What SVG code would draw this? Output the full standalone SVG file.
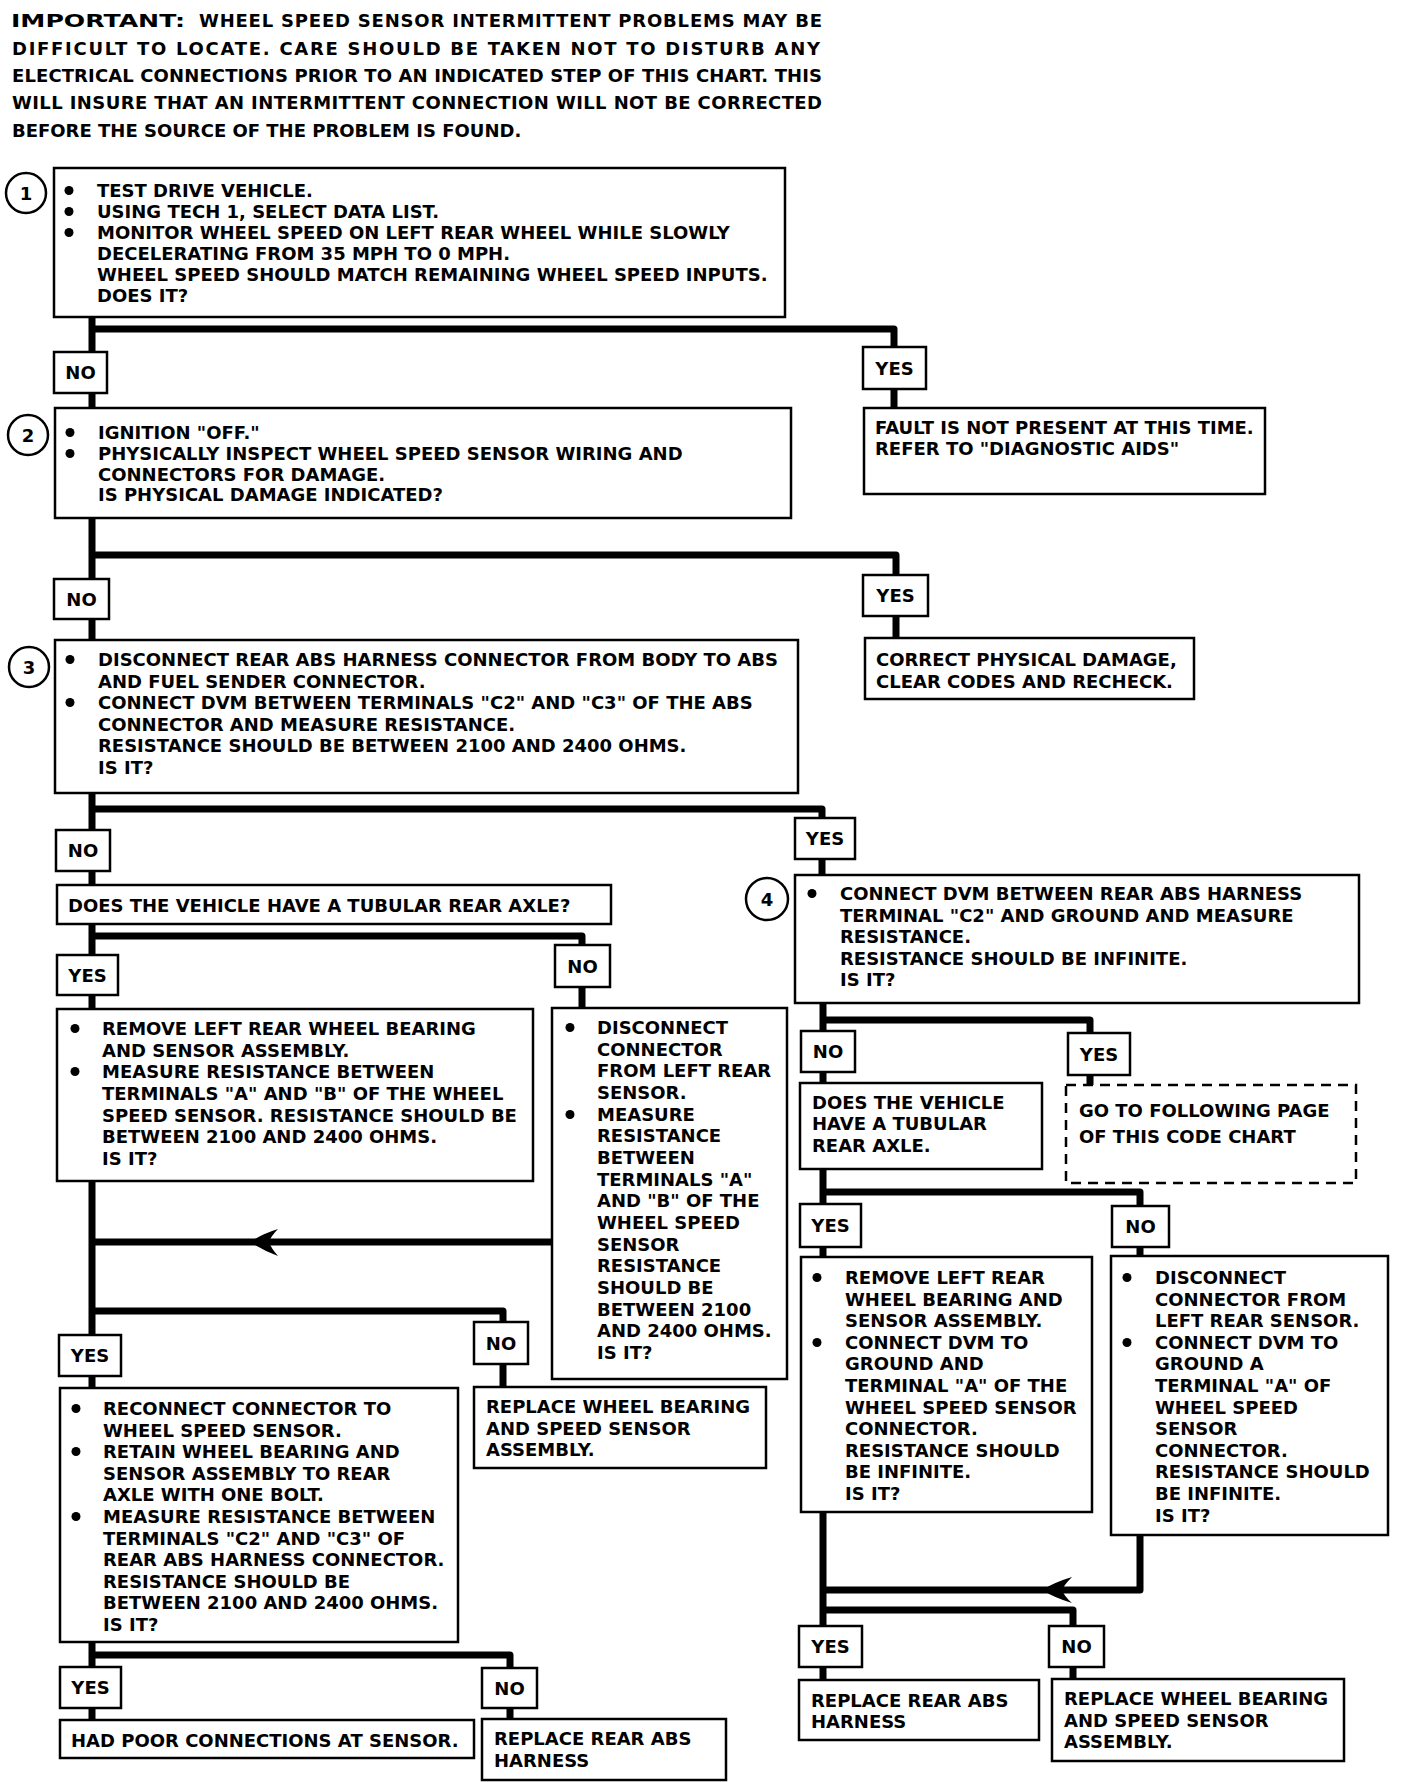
<svg xmlns="http://www.w3.org/2000/svg" width="1408" height="1782" viewBox="0 0 1408 1782">
<style>
.bg{fill:#fff}
.box{fill:#fff;stroke:#000;stroke-width:2.5}
.dash{fill:#fff;stroke:#000;stroke-width:2.5;stroke-dasharray:10 7}
.ln{fill:none;stroke:#000;stroke-width:7;stroke-linejoin:round;stroke-linecap:butt}
.ah{fill:#000;stroke:none}
.t{font-family:"DejaVu Sans","Liberation Sans",sans-serif;font-weight:bold;font-size:18px;fill:#000}
.c{text-anchor:middle}
.num{font-family:"DejaVu Sans","Liberation Sans",sans-serif;font-weight:bold;font-size:18px;fill:#000;text-anchor:middle}
.cir{fill:#fff;stroke:#000;stroke-width:2.5}
.b{fill:#000}
</style>
<rect class="bg" x="0" y="0" width="1408" height="1782"/>

<g id="header">
<text class="t" x="11" y="27" font-size="20" textLength="174" lengthAdjust="spacingAndGlyphs">IMPORTANT:</text>
<text class="t" x="199" y="27" textLength="623" lengthAdjust="spacing">WHEEL SPEED SENSOR INTERMITTENT PROBLEMS MAY BE</text>
<text class="t" x="12" y="55" textLength="808" lengthAdjust="spacing">DIFFICULT TO LOCATE.  CARE SHOULD BE TAKEN NOT TO DISTURB ANY</text>
<text class="t" x="12" y="82" textLength="810" lengthAdjust="spacing">ELECTRICAL CONNECTIONS PRIOR TO AN INDICATED STEP OF THIS CHART.  THIS</text>
<text class="t" x="12" y="109" textLength="810" lengthAdjust="spacing">WILL INSURE THAT AN INTERMITTENT CONNECTION WILL NOT BE CORRECTED</text>
<text class="t" x="12" y="137">BEFORE THE SOURCE OF THE PROBLEM IS FOUND.</text>
</g>

<g id="connectors">
<path class="ln" d="M92,317 V408 M92,329 H894 V408"/>
<path class="ln" d="M92,518 V640 M92,555 H896 V638"/>
<path class="ln" d="M92,793 V885 M92,809 H822 V875"/>
<path class="ln" d="M92,924 V1009 M92,936 H582 V1008"/>
<path class="ln" d="M92,1181 V1388 M92,1311 H503 V1387"/>
<path class="ln" d="M552,1242 H92"/>
<path class="ah" d="M250,1242 Q262,1234 278,1229 Q271,1236 269,1242 Q271,1248 278,1256 Q262,1250 250,1242 Z"/>
<path class="ln" d="M92,1642 V1720 M92,1655 H510 V1719"/>
<path class="ln" d="M823,1003 V1083 M823,1020 H1090 V1085"/>
<path class="ln" d="M823,1169 V1257 M823,1192 H1140 V1256"/>
<path class="ln" d="M823,1512 V1680 M823,1610 H1073 V1679"/>
<path class="ln" d="M1140,1535 V1590 H823"/>
<path class="ah" d="M1042,1590 Q1055,1582 1072,1577 Q1064,1585 1062,1590 Q1064,1596 1072,1603 Q1055,1598 1042,1590 Z"/>
</g>

<g id="step1">
<circle class="cir" cx="26" cy="193" r="20"/><text class="num" x="26" y="199.5">1</text>
<rect class="box" x="54" y="168" width="731" height="149"/>
<circle class="b" cx="69" cy="190.5" r="4.5"/><circle class="b" cx="69" cy="211.5" r="4.5"/><circle class="b" cx="69" cy="232.5" r="4.5"/>
<text class="t" x="97" y="197">TEST DRIVE VEHICLE.</text>
<text class="t" x="97" y="218">USING TECH 1, SELECT DATA LIST.</text>
<text class="t" x="97" y="239">MONITOR WHEEL SPEED ON LEFT REAR WHEEL WHILE SLOWLY</text>
<text class="t" x="97" y="260">DECELERATING FROM 35 MPH TO 0 MPH.</text>
<text class="t" x="97" y="281">WHEEL SPEED SHOULD MATCH REMAINING WHEEL SPEED INPUTS.</text>
<text class="t" x="97" y="302">DOES IT?</text>
</g>

<g id="yes1"><rect class="box" x="863" y="347" width="63" height="42"/><text class="t c" x="894.5" y="374.5">YES</text></g>
<g id="no1"><rect class="box" x="54" y="352" width="53" height="41"/><text class="t c" x="80.5" y="379">NO</text></g>

<g id="fault">
<rect class="box" x="864" y="408" width="401" height="86"/>
<text class="t" x="875" y="434">FAULT IS NOT PRESENT AT THIS TIME.</text>
<text class="t" x="875" y="455">REFER TO "DIAGNOSTIC AIDS"</text>
</g>

<g id="step2">
<circle class="cir" cx="28" cy="435" r="20"/><text class="num" x="28" y="441.5">2</text>
<rect class="box" x="55" y="408" width="736" height="110"/>
<circle class="b" cx="70" cy="432.5" r="4.5"/><circle class="b" cx="70" cy="453.5" r="4.5"/>
<text class="t" x="98" y="439">IGNITION "OFF."</text>
<text class="t" x="98" y="460">PHYSICALLY INSPECT WHEEL SPEED SENSOR WIRING AND</text>
<text class="t" x="98" y="481">CONNECTORS FOR DAMAGE.</text>
<text class="t" x="98" y="501">IS PHYSICAL DAMAGE INDICATED?</text>
</g>

<g id="yes2"><rect class="box" x="863" y="575" width="65" height="41"/><text class="t c" x="895.5" y="602">YES</text></g>
<g id="no2"><rect class="box" x="54" y="579" width="55" height="40"/><text class="t c" x="81.5" y="605.5">NO</text></g>

<g id="correct">
<rect class="box" x="865" y="638" width="329" height="61"/>
<text class="t" x="876" y="666">CORRECT PHYSICAL DAMAGE,</text>
<text class="t" x="876" y="688">CLEAR CODES AND RECHECK.</text>
</g>

<g id="step3">
<circle class="cir" cx="29" cy="667" r="20"/><text class="num" x="29" y="673.5">3</text>
<rect class="box" x="55" y="640" width="743" height="153"/>
<circle class="b" cx="70" cy="659.5" r="4.5"/><circle class="b" cx="70" cy="702.5" r="4.5"/>
<text class="t" x="98" y="666">DISCONNECT REAR ABS HARNESS CONNECTOR FROM BODY TO ABS</text>
<text class="t" x="98" y="688">AND FUEL SENDER CONNECTOR.</text>
<text class="t" x="98" y="709">CONNECT DVM BETWEEN TERMINALS "C2" AND "C3" OF THE ABS</text>
<text class="t" x="98" y="731">CONNECTOR AND MEASURE RESISTANCE.</text>
<text class="t" x="98" y="752">RESISTANCE SHOULD BE BETWEEN 2100 AND 2400 OHMS.</text>
<text class="t" x="98" y="774">IS IT?</text>
</g>

<g id="yes3"><rect class="box" x="795" y="818" width="60" height="41"/><text class="t c" x="825" y="845">YES</text></g>
<g id="no3"><rect class="box" x="56" y="830" width="54" height="41"/><text class="t c" x="83" y="857">NO</text></g>

<g id="step4">
<circle class="cir" cx="767" cy="899" r="21"/><text class="num" x="767" y="905.5">4</text>
<rect class="box" x="795" y="875" width="564" height="128"/>
<circle class="b" cx="812" cy="893.5" r="4.5"/>
<text class="t" x="840" y="900">CONNECT DVM BETWEEN REAR ABS HARNESS</text>
<text class="t" x="840" y="921.5">TERMINAL "C2" AND GROUND AND MEASURE</text>
<text class="t" x="840" y="943">RESISTANCE.</text>
<text class="t" x="840" y="964.5">RESISTANCE SHOULD BE INFINITE.</text>
<text class="t" x="840" y="986">IS IT?</text>
</g>

<g id="axle-left">
<rect class="box" x="57" y="885" width="554" height="39"/>
<text class="t" x="68" y="912">DOES THE VEHICLE HAVE A TUBULAR REAR AXLE?</text>
</g>

<g id="no4"><rect class="box" x="555" y="945" width="55" height="42"/><text class="t c" x="582.5" y="972.5">NO</text></g>
<g id="yes4"><rect class="box" x="57" y="955" width="61" height="40"/><text class="t c" x="87.5" y="981.5">YES</text></g>

<g id="remove-left">
<rect class="box" x="57" y="1009" width="476" height="172"/>
<circle class="b" cx="75" cy="1028.5" r="4.5"/><circle class="b" cx="75" cy="1071.5" r="4.5"/>
<text class="t" x="102" y="1035">REMOVE LEFT REAR WHEEL BEARING</text>
<text class="t" x="102" y="1057">AND SENSOR ASSEMBLY.</text>
<text class="t" x="102" y="1078">MEASURE RESISTANCE BETWEEN</text>
<text class="t" x="102" y="1100">TERMINALS "A" AND "B" OF THE WHEEL</text>
<text class="t" x="102" y="1122">SPEED SENSOR.  RESISTANCE SHOULD BE</text>
<text class="t" x="102" y="1143">BETWEEN 2100 AND 2400 OHMS.</text>
<text class="t" x="102" y="1165">IS IT?</text>
</g>

<g id="disconnect-left">
<rect class="box" x="552" y="1008" width="235" height="371"/>
<circle class="b" cx="570" cy="1027.5" r="4.5"/><circle class="b" cx="570" cy="1114.5" r="4.5"/>
<text class="t" x="597" y="1034">DISCONNECT</text>
<text class="t" x="597" y="1056">CONNECTOR</text>
<text class="t" x="597" y="1077">FROM LEFT REAR</text>
<text class="t" x="597" y="1099">SENSOR.</text>
<text class="t" x="597" y="1121">MEASURE</text>
<text class="t" x="597" y="1142">RESISTANCE</text>
<text class="t" x="597" y="1164">BETWEEN</text>
<text class="t" x="597" y="1186">TERMINALS "A"</text>
<text class="t" x="597" y="1207">AND "B" OF THE</text>
<text class="t" x="597" y="1229">WHEEL SPEED</text>
<text class="t" x="597" y="1251">SENSOR</text>
<text class="t" x="597" y="1272">RESISTANCE</text>
<text class="t" x="597" y="1294">SHOULD BE</text>
<text class="t" x="597" y="1316">BETWEEN 2100</text>
<text class="t" x="597" y="1337">AND 2400 OHMS.</text>
<text class="t" x="597" y="1359">IS IT?</text>
</g>

<g id="no5"><rect class="box" x="474" y="1322" width="54" height="42"/><text class="t c" x="501" y="1349.5">NO</text></g>
<g id="yes5"><rect class="box" x="59" y="1335" width="62" height="41"/><text class="t c" x="90" y="1362">YES</text></g>

<g id="replace-wb-left">
<rect class="box" x="474" y="1387" width="292" height="81"/>
<text class="t" x="486" y="1413">REPLACE WHEEL BEARING</text>
<text class="t" x="486" y="1435">AND SPEED SENSOR</text>
<text class="t" x="486" y="1456">ASSEMBLY.</text>
</g>

<g id="reconnect">
<rect class="box" x="60" y="1388" width="398" height="254"/>
<circle class="b" cx="76" cy="1408.5" r="4.5"/><circle class="b" cx="76" cy="1451.5" r="4.5"/><circle class="b" cx="76" cy="1516.5" r="4.5"/>
<text class="t" x="103" y="1415">RECONNECT CONNECTOR TO</text>
<text class="t" x="103" y="1437">WHEEL SPEED SENSOR.</text>
<text class="t" x="103" y="1458">RETAIN WHEEL BEARING AND</text>
<text class="t" x="103" y="1480">SENSOR ASSEMBLY TO REAR</text>
<text class="t" x="103" y="1501">AXLE WITH ONE BOLT.</text>
<text class="t" x="103" y="1523">MEASURE RESISTANCE BETWEEN</text>
<text class="t" x="103" y="1545">TERMINALS "C2" AND "C3" OF</text>
<text class="t" x="103" y="1566">REAR ABS HARNESS CONNECTOR.</text>
<text class="t" x="103" y="1588">RESISTANCE SHOULD BE</text>
<text class="t" x="103" y="1609">BETWEEN 2100 AND 2400 OHMS.</text>
<text class="t" x="103" y="1631">IS IT?</text>
</g>

<g id="yes8"><rect class="box" x="60" y="1667" width="61" height="41"/><text class="t c" x="90.5" y="1694">YES</text></g>
<g id="no8"><rect class="box" x="482" y="1668" width="55" height="40"/><text class="t c" x="509.5" y="1694.5">NO</text></g>

<g id="hadpoor">
<rect class="box" x="60" y="1720" width="414" height="38"/>
<text class="t" x="71" y="1747">HAD POOR CONNECTIONS AT SENSOR.</text>
</g>
<g id="replace-abs-left">
<rect class="box" x="482" y="1719" width="244" height="61"/>
<text class="t" x="494" y="1745">REPLACE REAR ABS</text>
<text class="t" x="494" y="1767">HARNESS</text>
</g>

<g id="no6"><rect class="box" x="801" y="1031" width="54" height="41"/><text class="t c" x="828" y="1058">NO</text></g>
<g id="yes6"><rect class="box" x="1068" y="1033" width="62" height="42"/><text class="t c" x="1099" y="1060.5">YES</text></g>

<g id="axle-right">
<rect class="box" x="800" y="1083" width="242" height="86"/>
<text class="t" x="812" y="1109">DOES THE VEHICLE</text>
<text class="t" x="812" y="1130">HAVE A TUBULAR</text>
<text class="t" x="812" y="1152">REAR AXLE.</text>
</g>

<g id="goto">
<rect class="dash" x="1066" y="1085" width="290" height="98"/>
<text class="t" x="1079" y="1117">GO TO FOLLOWING PAGE</text>
<text class="t" x="1079" y="1143">OF THIS CODE CHART</text>
</g>

<g id="yes7"><rect class="box" x="800" y="1204" width="61" height="43"/><text class="t c" x="830.5" y="1232">YES</text></g>
<g id="no7"><rect class="box" x="1112" y="1206" width="57" height="41"/><text class="t c" x="1140.5" y="1233">NO</text></g>

<g id="remove-right">
<rect class="box" x="801" y="1257" width="291" height="255"/>
<circle class="b" cx="817" cy="1277.5" r="4.5"/><circle class="b" cx="817" cy="1342.5" r="4.5"/>
<text class="t" x="845" y="1284">REMOVE LEFT REAR</text>
<text class="t" x="845" y="1306">WHEEL BEARING AND</text>
<text class="t" x="845" y="1327">SENSOR ASSEMBLY.</text>
<text class="t" x="845" y="1349">CONNECT DVM TO</text>
<text class="t" x="845" y="1370">GROUND AND</text>
<text class="t" x="845" y="1392">TERMINAL "A" OF THE</text>
<text class="t" x="845" y="1414">WHEEL SPEED SENSOR</text>
<text class="t" x="845" y="1435">CONNECTOR.</text>
<text class="t" x="845" y="1457">RESISTANCE SHOULD</text>
<text class="t" x="845" y="1478">BE INFINITE.</text>
<text class="t" x="845" y="1500">IS IT?</text>
</g>

<g id="disconnect-right">
<rect class="box" x="1111" y="1256" width="277" height="279"/>
<circle class="b" cx="1127" cy="1277.5" r="4.5"/><circle class="b" cx="1127" cy="1342.5" r="4.5"/>
<text class="t" x="1155" y="1284">DISCONNECT</text>
<text class="t" x="1155" y="1306">CONNECTOR FROM</text>
<text class="t" x="1155" y="1327">LEFT REAR SENSOR.</text>
<text class="t" x="1155" y="1349">CONNECT DVM TO</text>
<text class="t" x="1155" y="1370">GROUND A</text>
<text class="t" x="1155" y="1392">TERMINAL "A" OF</text>
<text class="t" x="1155" y="1414">WHEEL SPEED</text>
<text class="t" x="1155" y="1435">SENSOR</text>
<text class="t" x="1155" y="1457">CONNECTOR.</text>
<text class="t" x="1155" y="1478">RESISTANCE SHOULD</text>
<text class="t" x="1155" y="1500">BE INFINITE.</text>
<text class="t" x="1155" y="1522">IS IT?</text>
</g>

<g id="yes9"><rect class="box" x="799" y="1626" width="63" height="41"/><text class="t c" x="830.5" y="1653">YES</text></g>
<g id="no9"><rect class="box" x="1049" y="1626" width="55" height="41"/><text class="t c" x="1076.5" y="1653">NO</text></g>

<g id="replace-abs-right">
<rect class="box" x="799" y="1680" width="240" height="60"/>
<text class="t" x="811" y="1707">REPLACE REAR ABS</text>
<text class="t" x="811" y="1728">HARNESS</text>
</g>
<g id="replace-wb-right">
<rect class="box" x="1052" y="1679" width="292" height="82"/>
<text class="t" x="1064" y="1705">REPLACE WHEEL BEARING</text>
<text class="t" x="1064" y="1727">AND SPEED SENSOR</text>
<text class="t" x="1064" y="1748">ASSEMBLY.</text>
</g>
</svg>
